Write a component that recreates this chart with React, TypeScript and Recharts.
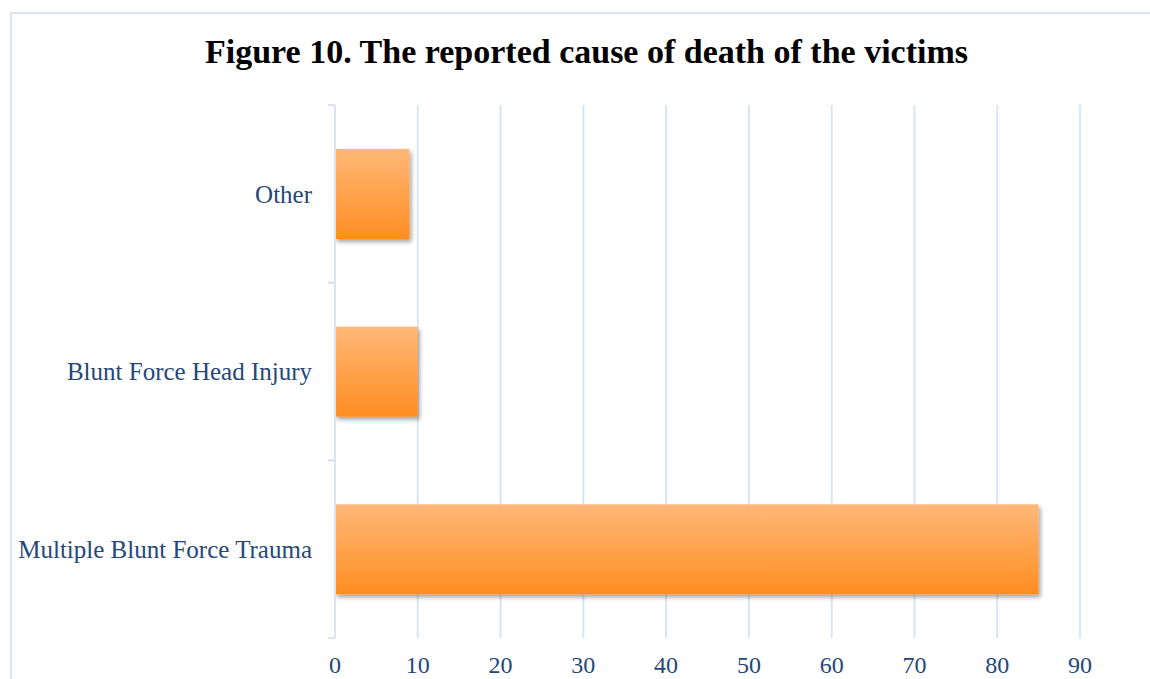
import React from 'react';
import { BarChart, Bar, XAxis, YAxis, CartesianGrid } from 'recharts';

const categories = ['Other', 'Blunt Force Head Injury', 'Multiple Blunt Force Trauma'];
const values = [9, 10, 85];
const xTicks = [0, 10, 20, 30, 40, 50, 60, 70, 80, 90];
const title = 'Figure 10. The reported cause of death of the victims';

const data = categories.map((c, i) => ({ name: c, value: values[i] }));

const TEXT = '#24477A';
const GRID = '#DAE4F2';
const FONT = '"Liberation Serif", "DejaVu Serif", serif';
const BAND = (638 - 105) / 3;

const CatTick = (props: any) => {
  const { x, y, payload } = props;
  const ax = x + 23;
  return (
    <g>
      <line x1={ax - 7} x2={ax} y1={y - BAND / 2} y2={y - BAND / 2} stroke={GRID} strokeWidth={2} />
      <line x1={ax - 7} x2={ax} y1={y + BAND / 2} y2={y + BAND / 2} stroke={GRID} strokeWidth={2} />
      <text x={x} y={y} dy="0.35em" textAnchor="end" fill={TEXT} fontFamily={FONT} fontSize={25}>
        {payload.value}
      </text>
    </g>
  );
};

const BarShape = (props: any) => {
  const { x, y, width, height } = props;
  return <rect x={x} y={y} width={width} height={height} fill="url(#barGrad)" filter="url(#barShadow)" />;
};

export default function App() {
  return (
    <div style={{ position: 'absolute', left: 0, top: 0, width: 1150, height: 679, overflow: 'hidden', background: '#fff' }}>
      <div style={{ position: 'absolute', left: 10, top: 12, width: 1200, height: 800, border: `2px solid ${GRID}` }} />
      <div style={{ position: 'absolute', left: 0, top: 32, width: 1173, textAlign: 'center', fontFamily: FONT, fontWeight: 'bold', fontSize: 34, color: '#000', lineHeight: '40px', whiteSpace: 'nowrap' }}>
        {title}
      </div>
      <div style={{ position: 'absolute', left: 0, top: 0 }}>
        <BarChart width={1150} height={679} data={data} layout="vertical" margin={{ top: 105, right: 70, bottom: 0, left: 0 }}>
          <defs>
            <linearGradient id="barGrad" x1="0" y1="0" x2="0" y2="1">
              <stop offset="0%" stopColor="#FFB878" />
              <stop offset="100%" stopColor="#FF8D22" />
            </linearGradient>
            <filter id="barShadow" x="-5%" y="-10%" width="115%" height="130%">
              <feDropShadow dx="2" dy="3" stdDeviation="2" floodColor="#000" floodOpacity="0.35" />
            </filter>
          </defs>
          <CartesianGrid horizontal={false} vertical stroke={GRID} strokeWidth={2} />
          <XAxis type="number" domain={[0, 90]} ticks={xTicks} axisLine={false} tickLine={false} tickSize={0} tickMargin={18}
            tick={{ fill: TEXT, fontFamily: FONT, fontSize: 24 }} interval={0} height={41} />
          <YAxis type="category" dataKey="name" width={335} axisLine={{ stroke: GRID, strokeWidth: 2 }} tickLine={false}
            tickSize={0} tickMargin={23} tick={<CatTick />} interval={0} />
          <Bar dataKey="value" barSize={90} shape={<BarShape />} isAnimationActive={false} />
        </BarChart>
      </div>
    </div>
  );
}
